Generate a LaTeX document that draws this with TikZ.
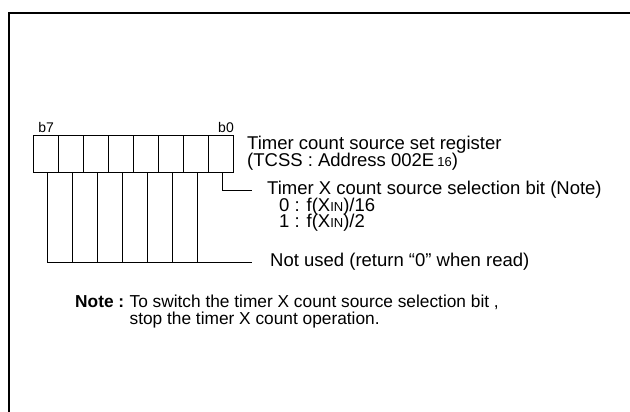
\documentclass[tikz,border=0pt]{standalone}
\usepackage{fontspec}
\setmainfont{Liberation Sans}
\usetikzlibrary{calc}
\usetikzlibrary{positioning}

\begin{document}
\begin{tikzpicture}[x=1pt,y=-1pt,
    cell/.style={draw,line width=0.8pt,minimum width=25pt,minimum height=37pt,inner sep=0pt,anchor=north east},
    lead/.style={line width=0.8pt},
    lbl/.style={anchor=west,inner sep=0pt,font=\fontsize{18.5}{16}\selectfont},
    notelbl/.style={anchor=base west,inner sep=0pt,font=\fontsize{17.3}{16}\selectfont},
    bitlbl/.style={inner sep=0pt,font=\fontsize{14}{14}\selectfont}]
      \useasboundingbox (0,0) rectangle (630,412);

      % Frame
      \draw[line width=2.2pt] (9,412) -- (9,13) -- (630,13);

      % Register cells
      \foreach \b in {0,...,7}
      {
        \node[cell] (c\b) at ($(234,135)-(25*\b,0)$) {};
      }
      \node[bitlbl,anchor=south west] (b7) at ($(c7.north west)+(5,-2)$) {b7};
      \node[bitlbl,anchor=south east] (b0) at ($(c0.north east)+(0,-2)$) {b0};

      % Lead lines
      \coordinate (e0) at (252,190);
      \coordinate (e1) at (252,262);
      \draw[lead] ($(c0.south)+(1,0)$) |- (e0);
      \draw[lead] ($(c7.south)+(1,0)$) |- (e1);
      \foreach \b in {1,...,6}
      {
        \coordinate (t\b) at ($(c\b.south)+(1,0)$);
        \draw[lead] (t\b) -- (t\b |- e1);
      }

      % Texts
      \node[lbl] (reg) at (247,145) {Timer count source set register};
      \node[lbl] (tcss) at (247,162) {(TCSS : Address 002E\,{\fontsize{13}{13}\selectfont 16})};
      \node[lbl] (sel) at (267,190) {Timer X count source selection bit (Note)};
      \node[lbl] (s0) at (279,207) {0 : f(X{\fontsize{13}{13}\selectfont IN})/16};
      \node[lbl] (s1) at (279,223) {1 : f(X{\fontsize{13}{13}\selectfont IN})/2};
      \node[lbl] (nu) at (270,262) {Not used (return “0” when read)};

      % Note
      \node[notelbl,font=\fontsize{17.3}{16}\selectfont\bfseries] (note) at (75,307) {Note :};
      \node[notelbl] (n1) at ($(note.base east)+(5,0)$) {To switch the timer X count source selection bit ,};
      \node[notelbl] (n2) at ($(n1.base west)+(0,17)$) {stop the timer X count operation.};

  \end{tikzpicture}
\end{document}
